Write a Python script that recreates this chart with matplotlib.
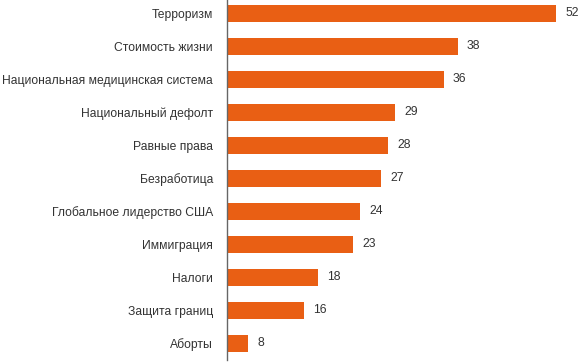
import matplotlib
matplotlib.use("Agg")
import matplotlib.pyplot as plt

categories = ["Терроризм", "Стоимость жизни", "Национальная медицинская система",
              "Национальный дефолт", "Равные права", "Безработица",
              "Глобальное лидерство США", "Иммиграция", "Налоги",
              "Защита границ", "Аборты"]
values = [52, 38, 36, 29, 28, 27, 24, 23, 18, 16, 8]

plt.rcParams['font.family'] = ['Liberation Sans', 'DejaVu Sans']

fig = plt.figure(figsize=(5.82, 3.64), dpi=100)
ax = fig.add_axes([227 / 582, 4 / 364, 355 / 582, 360 / 364])

pos = list(range(len(values)))
ax.barh(pos, values, height=0.515, color="#e95f14", left=0)
ax.set_xlim(5, 5 + 355 / 7)
ax.set_ylim(10.5, -0.409)

for p, v in zip(pos, values):
    ax.text(v + 9 / 7, p, str(v), va="center", ha="left", fontsize=8.7, color="#333333")

ax.set_yticks(pos)
ax.set_yticklabels(categories, fontsize=8.7, color="#333333")
ax.tick_params(axis="y", length=0, pad=10)
ax.set_xticks([])

for s in ["top", "right", "bottom"]:
    ax.spines[s].set_visible(False)
ax.spines["left"].set_color("#666666")
ax.spines["left"].set_linewidth(1)

fig.savefig("out.png", dpi=100)
